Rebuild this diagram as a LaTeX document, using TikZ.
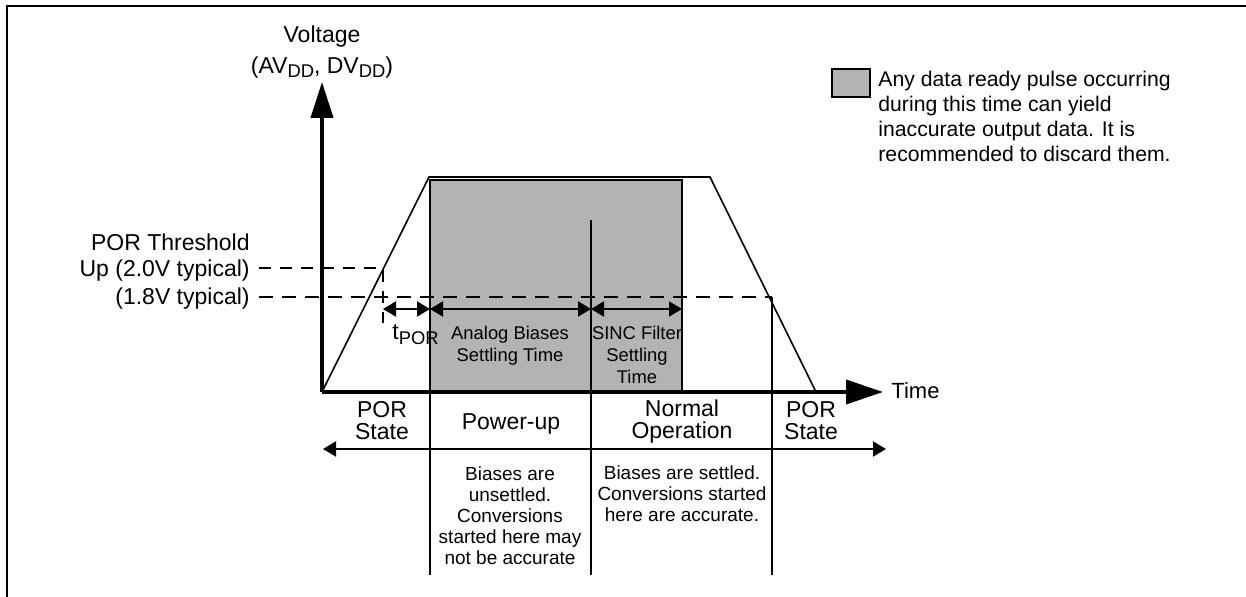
\documentclass[tikz,border=0pt]{standalone}
\usepackage{fontspec}
\setmainfont{Liberation Sans}
\usetikzlibrary{calc,arrows.meta,math}

\definecolor{pulsegray}{RGB}{179,179,179}
\newcommand{\lowsub}[2][2pt]{\raisebox{-#1}{\fontsize{9.2}{9.2}\selectfont #2}}

\begin{document}
\begin{tikzpicture}[x=0.5pt, y=-0.5pt,
	every node/.style={inner sep=0pt},
	big/.style={font=\fontsize{11.5}{11}\selectfont, align=center},
	small/.style={font=\fontsize{9.2}{11}\selectfont, align=center},
	note/.style={font=\fontsize{9.5}{10.5}\selectfont, align=center},
	axis/.style={line width=2pt, -{Triangle[length=18pt, width=11pt]}},
	span/.style={line width=1pt, {Triangle[length=6.5pt, width=7.5pt]}-{Triangle[length=6.5pt, width=7.5pt]}},
	dashhi/.style={line width=0.6pt, dash pattern=on 6pt off 4.5pt},
	dashlo/.style={line width=1pt, dash pattern=on 7pt off 4.5pt},
	sep/.style={line width=1.3pt},
	shade/.style={fill=pulsegray, draw=black, line width=1pt}]

	\tikzmath{
		\xo = 322 ;
		\yo = 392 ;
		\yup = 268 ;
		\ylow = 297 ;
		\yspan = 309 ;
	}

	\useasboundingbox (0,0) rectangle (1246,597);
	\draw[line width=1.4pt] (7,597) -- (7,6) -- (1246,6);

	\coordinate (O) at (\xo,\yo);
	\coordinate (V) at (\xo,82);
	\coordinate (T) at (883,\yo);
	\coordinate (A) at (429,177);
	\coordinate (B) at (710,177);
	\coordinate (C) at (816,\yo);

	\filldraw[shade] (430,180) rectangle (682,\yo);
	\draw[line width=0.8pt] (O) -- (A) -- (B) -- (C);

	\coordinate (U0) at (259,\yup);
	\coordinate (U1) at (383,\yup);
	\coordinate (U2) at (383,323);
	\coordinate (L0) at (259,\ylow);
	\coordinate (L1) at (772,\ylow);

	\draw[dashhi] (U0) -- (U1) -- (U2);
	\draw[dashlo] (L0) -- (L1);

	\draw[line width=1pt] (591,220) -- (591,\yo);
	\draw[line width=1pt] (L1) -- (772,\yo);
	\foreach \x in {430,591,772}
		\draw[sep] (\x,\yo) -- (\x,575);

	\coordinate (S0) at (383,\yspan);
	\coordinate (S1) at (430,\yspan);
	\coordinate (S2) at (591,\yspan);
	\coordinate (S3) at (682,\yspan);
	\draw[span] (S0) -- (S1);
	\draw[span] (S1) -- (S2);
	\draw[span] (S2) -- (S3);

	\draw[axis] (O) -- (V);
	\draw[line width=2pt, -{Triangle[length=18.5pt, width=12pt]}] (O) -- (T);

	\coordinate (W0) at (323,449);
	\coordinate (W1) at (886,449);
	\draw[span] (W0) -- (W1);

	\node[big, anchor=base] (vlab) at (\xo,43) {Voltage};
	\node[big, anchor=base] (vsub) at (\xo,74) {(AV\lowsub{DD}, DV\lowsub{DD})};
	\node[big, anchor=base east] (thr) at (250,251) {POR Threshold};
	\node[big, anchor=base east] (thrup) at (250,277) {Up (2.0V typical)};
	\node[big, anchor=base east] (thrlow) at (250,305) {(1.8V typical)};
	\node[big, anchor=base west] (tpor) at (392,340) {t\lowsub[2.5pt]{POR}};

	\node[small] (bias) at (510,346) {Analog Biases\\Settling Time};
	\node[small] (sinc) at (637,355) {SINC Filter\\Settling\\Time};

	\node[big] (por1) at (382,421) {POR\\State};
	\node[big] (pwr) at (511,424) {Power-up};
	\node[big] (norm) at (682,421.5) {Normal\\Operation};
	\node[big] (por2) at (811,421) {POR\\State};

	\node[note] (unset) at (510,516) {Biases are\\unsettled.\\Conversions\\started here may\\not be accurate};
	\node[note] (set) at (682,493.5) {Biases are settled.\\Conversions started\\here are accurate.};

	\node[font=\fontsize{11}{11}\selectfont, anchor=west] (tlab) at (891,391) {Time};

	\node[shade, line width=1.2pt, minimum width=19pt, minimum height=14pt] (key) at (851,83) {};
	\node[font=\fontsize{10.6}{12.5}\selectfont, align=left, anchor=west] (keytxt) at (878,116.5)
		{Any data ready pulse occurring\\during this time can yield\\inaccurate output data. It is\\recommended to discard them.};

\end{tikzpicture}
\end{document}
